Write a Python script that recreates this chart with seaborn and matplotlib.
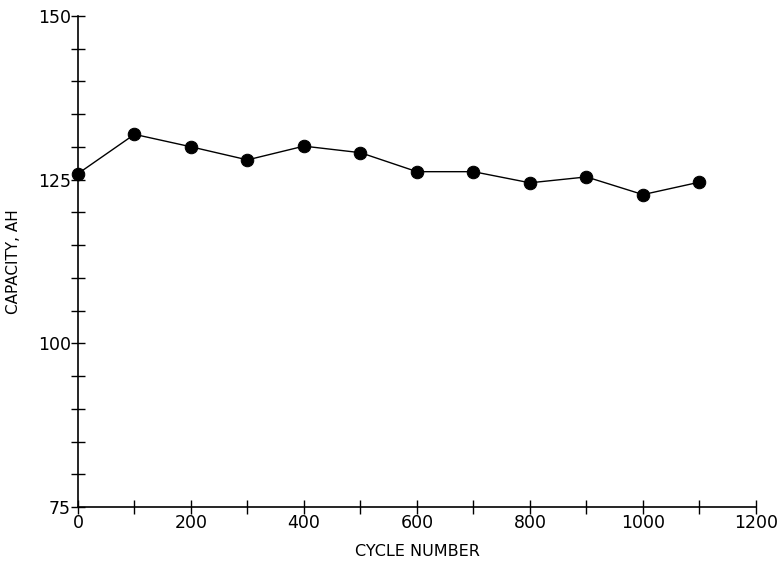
import matplotlib
matplotlib.use("Agg")
import matplotlib.pyplot as plt
import seaborn as sns
import pandas as pd
from matplotlib.ticker import MultipleLocator

# Datos
cycles = [0, 100, 200, 300, 400, 500, 600, 700, 800, 900, 1000, 1100]
capacity = [125.9, 131.9, 130.0, 128.0, 130.1, 129.1, 126.2, 126.2, 124.5, 125.4, 122.7, 124.6]

x_ticks = [0, 200, 400, 600, 800, 1000, 1200]
y_ticks = [75, 100, 125, 150]


def main() -> None:
    sns.set_theme(style="ticks")
    plt.rcParams["font.family"] = ["DejaVu Sans"]

    df = pd.DataFrame({"cycle": cycles, "capacity": capacity})

    fig = plt.figure(figsize=(7.82, 5.64), dpi=100)
    ax = fig.add_axes([0.0997, 0.101, 0.867, 0.871])

    sns.lineplot(data=df, x="cycle", y="capacity", ax=ax, color="black",
                 linewidth=1.0, marker="o", markersize=9,
                 markeredgecolor="black", markerfacecolor="black", clip_on=False)

    ax.set_xlim(0, 1200)
    ax.set_ylim(75, 150)
    ax.set_xticks(x_ticks)
    ax.set_yticks(y_ticks)
    ax.xaxis.set_minor_locator(MultipleLocator(100))
    ax.yaxis.set_minor_locator(MultipleLocator(5))

    for side in ["top", "right"]:
        ax.spines[side].set_visible(False)
    for side in ["left", "bottom"]:
        ax.spines[side].set_color("black")
        ax.spines[side].set_linewidth(1.2)

    ax.tick_params(axis="both", which="both", direction="inout", color="black",
                   width=1.0)
    ax.tick_params(axis="both", which="major", length=10, labelsize=12.5,
                   labelcolor="black", pad=0)
    ax.tick_params(axis="both", which="minor", length=10)

    ax.set_xlabel("CYCLE NUMBER", fontsize=11.5, labelpad=9, color="black")
    ax.set_ylabel("CAPACITY, AH", fontsize=11, labelpad=12, color="black")

    fig.savefig("out.png", dpi=100)


if __name__ == "__main__":
    main()
